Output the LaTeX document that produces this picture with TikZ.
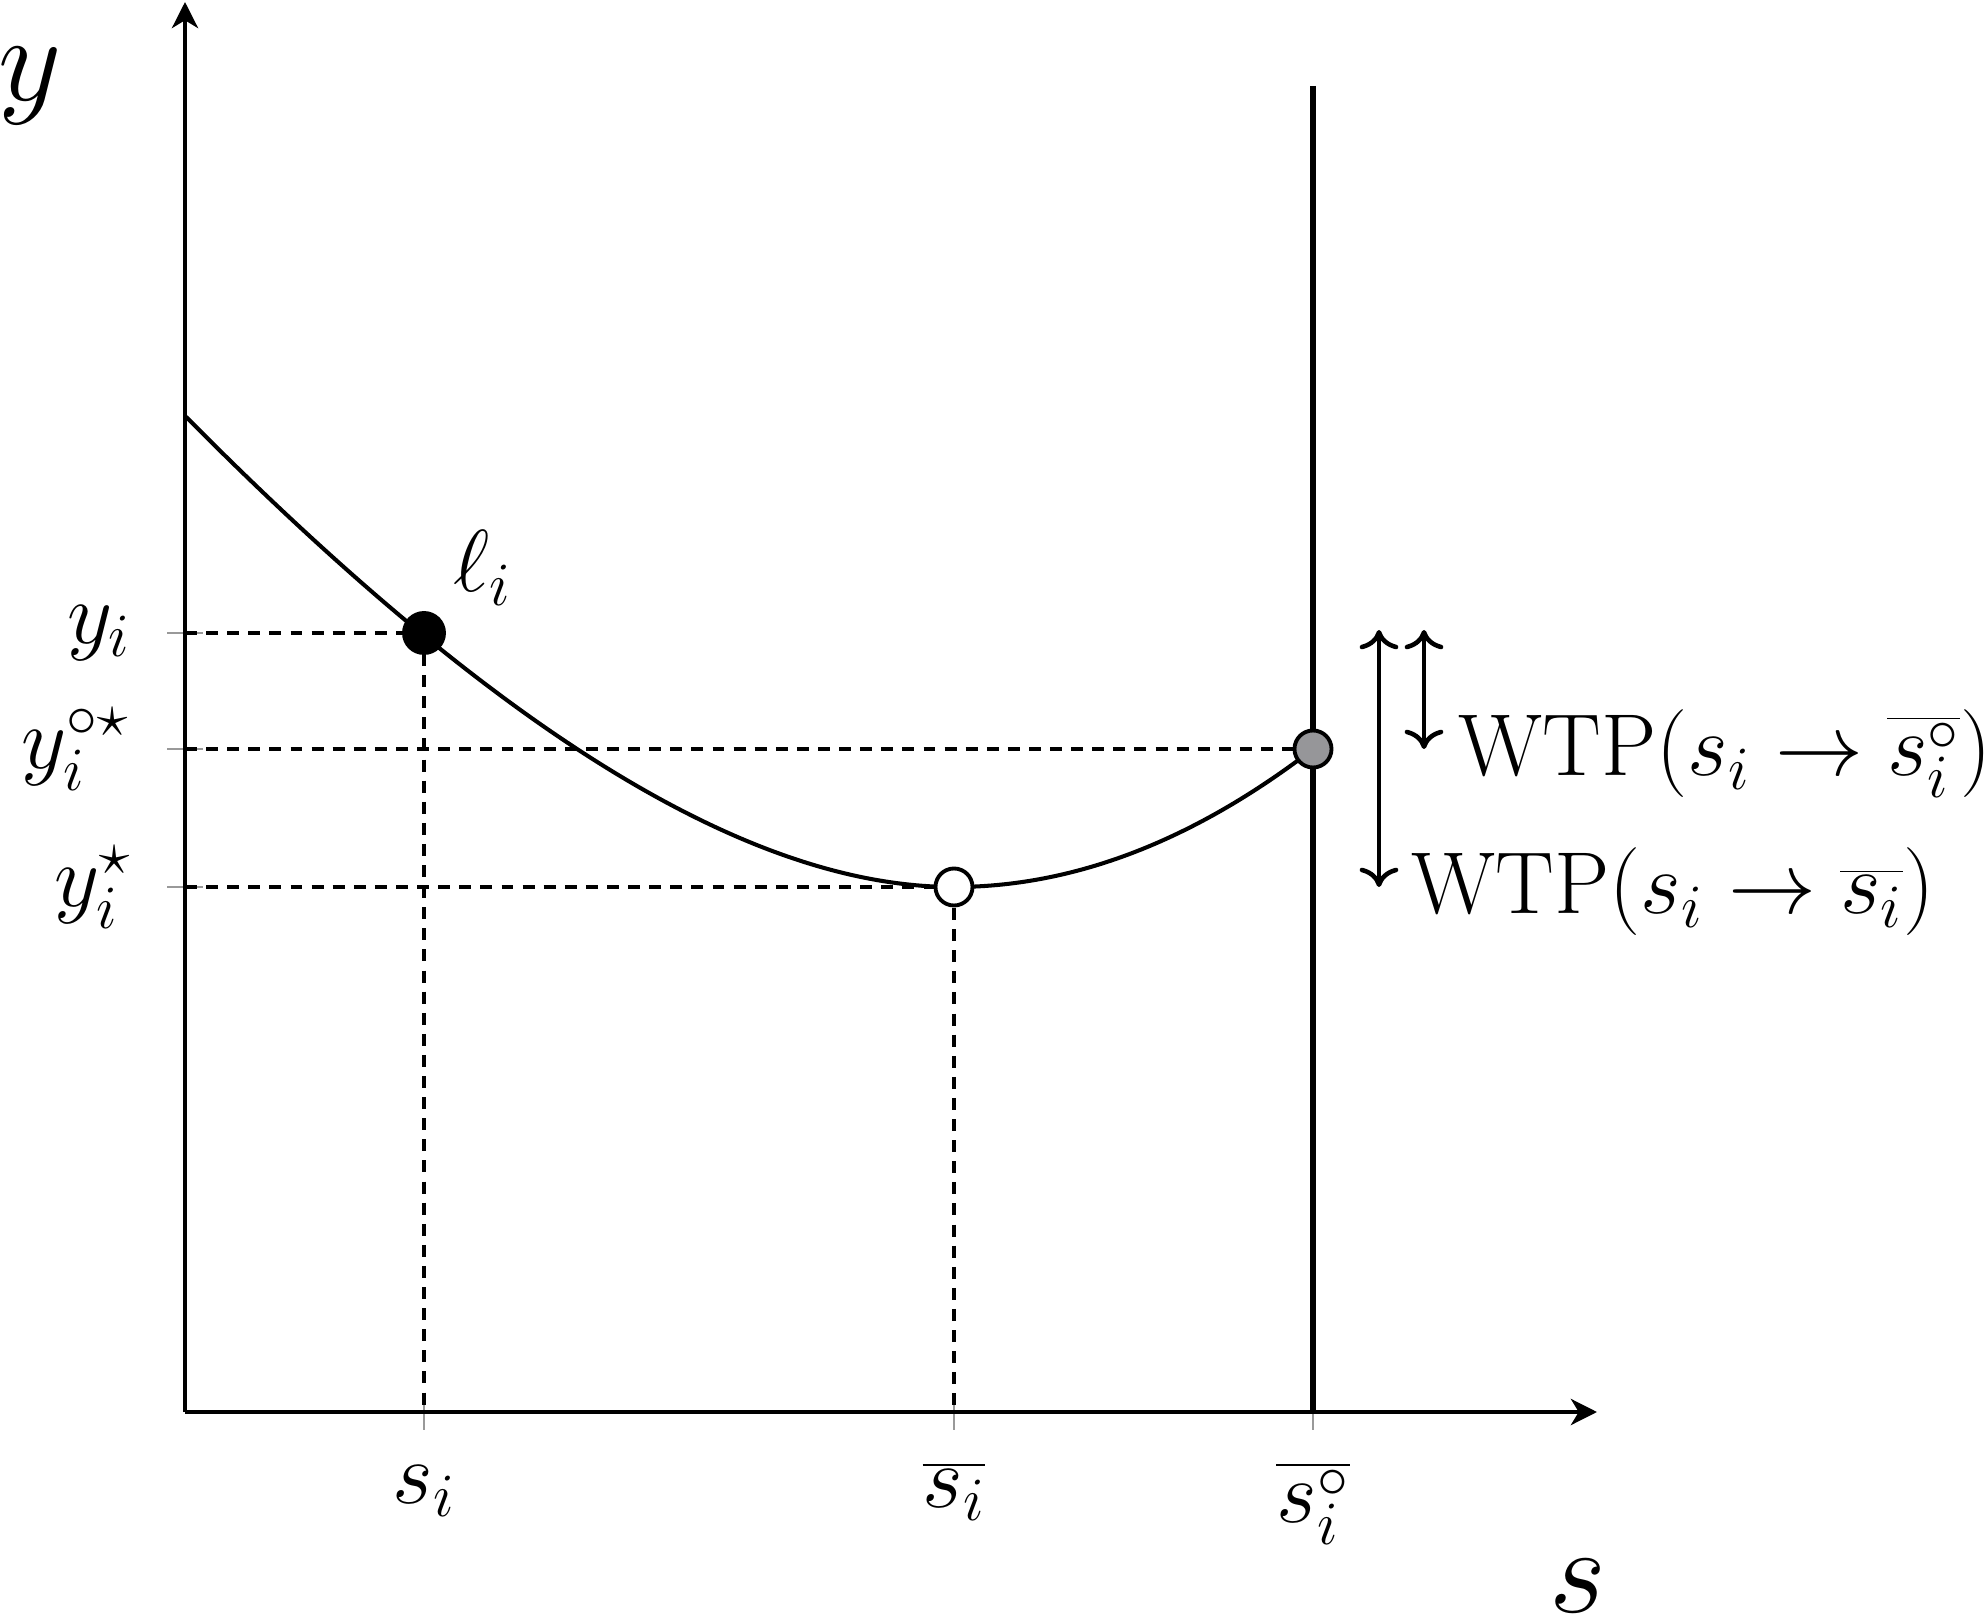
\documentclass[tikz,border=0pt]{standalone}
\usepackage{fix-cm}
\usetikzlibrary{arrows.meta}
\definecolor{dotgray}{RGB}{150,150,153}
\begin{document}
\begin{tikzpicture}[x=0.01cm,y=-0.01cm,
  axisline/.style={line width=1.25pt,-{Stealth[length=7.4pt,width=7.4pt,inset=2.2pt]}},
  guide/.style={line width=1.1pt,dash pattern=on 3.4pt off 2.6pt},
  tickmark/.style={black!40,line width=0.4pt},
  lbl/.style={font=\fontsize{25}{30}\selectfont,inner sep=0pt},
  biglbl/.style={font=\fontsize{35}{42}\selectfont,inner sep=0pt},
  dotnode/.style={circle,draw=black,line width=1.1pt,inner sep=0pt,minimum size=0.37cm},
  wtparrow/.style={line width=1.3pt,{Computer Modern Rightarrow[length=5.5pt,width=11pt]}-{Computer Modern Rightarrow[length=5.5pt,width=11pt]}}]
\useasboundingbox (0,0) rectangle (1987,1619);

% key coordinates
\coordinate (O) at (185,1412);
\coordinate (ytop) at (185,2);
\coordinate (xend) at (1597,1412);
\coordinate (yA) at (185,633);
\coordinate (yB) at (185,749);
\coordinate (yC) at (185,887);
\coordinate (xA) at (424,1412);
\coordinate (xB) at (954,1412);
\coordinate (xC) at (1313,1412);
\coordinate (vtop) at (1313,86);

% ticks
\foreach \yy in {633,749,887} \draw[tickmark] (167,\yy) -- (203,\yy);
\foreach \xx in {424,954,1313} \draw[tickmark] (\xx,1394) -- (\xx,1430);

% dot positions
\coordinate (pA) at (424,633);
\coordinate (pB) at (954,887);
\coordinate (pC) at (1313,749);

% dashed guides
\draw[guide] (yA) -- (pA);
\draw[guide] (yB) -- (pC);
\draw[guide] (yC) -- (pB);
\draw[guide] (pA) -- (xA);
\draw[guide] (pB) -- (xB);

% axes
\draw[axisline] (O) -- (ytop);
\draw[axisline] (O) -- (xend);

% vertical line
\draw[line width=1.6pt] (vtop) -- (xC);

% curve
\draw[line width=1.15pt]
  plot[domain=186:954,samples=120] (\x,{887-12.3*((954-\x)/100)^2/(1+0.0707*(954-\x)/100)})
  -- plot[domain=954:1313,samples=60] (\x,{887-10.7*((\x-954)/100)^2});

% dots
\node[dotnode,fill=black,minimum size=0.40cm] (dA) at (pA) {};
\node[dotnode,fill=white] (dB) at (pB) {};
\node[dotnode,fill=dotgray] (dC) at (pC) {};

% WTP arrows
\coordinate (a1t) at (1379,630);
\coordinate (a1b) at (1379,887);
\coordinate (a2t) at (1424,630);
\coordinate (a2b) at (1424,749);
\draw[wtparrow] (a1t) -- (a1b);
\draw[wtparrow] (a2t) -- (a2b);

% labels
\node[biglbl] (ylab) at (30,86) {$y$};
\node[biglbl] (slab) at (1578,1586) {$s$};
\node[lbl] (ell) at (483,568) {$\ell_i$};

\node[lbl,anchor=east] (tyA) at (132,633) {$y_i$};
\node[lbl,anchor=east] (tyB) at (130,749) {$y_i^{\circ\star}$};
\node[lbl,anchor=east] (tyC) at (132,887) {$y_i^{\star}$};

\node[lbl,anchor=north] (txA) at (424,1465) {$s_i$};
\node[lbl,anchor=north] (txB) at (954,1462) {$\overline{s_i}$};
\node[lbl,anchor=north] (txC) at (1313,1462) {$\overline{s_i^{\circ}}$};

\node[lbl,anchor=base west] (w1) at (1458,776) {WTP$(s_i\rightarrow\overline{s_i^{\circ}})$};
\node[lbl,anchor=base west] (w2) at (1411,914) {WTP$(s_i\rightarrow\overline{s_i})$};
\end{tikzpicture}
\end{document}
